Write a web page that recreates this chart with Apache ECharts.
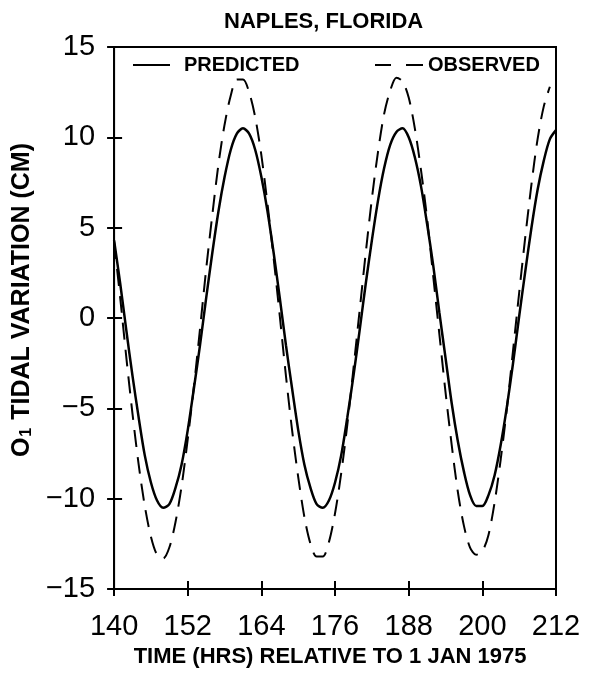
<!DOCTYPE html>
<html>
<head>
<meta charset="utf-8">
<script src="https://cdn.jsdelivr.net/npm/echarts@6/dist/echarts.min.js"></script>
<style>html,body{margin:0;padding:0;background:#fff}#c{width:597px;height:673px}</style>
</head>
<body>
<div id="c"></div>
<script>
// Time (hrs relative to 1 Jan 1975), one reading per hour
const predictedHours = [140,141,142,143,144,145,146,147,148,149,150,151,152,153,154,155,156,157,158,159,160,161,162,163,164,165,166,167,168,169,170,171,172,173,174,175,176,177,178,179,180,181,182,183,184,185,186,187,188,189,190,191,192,193,194,195,196,197,198,199,200,201,202,203,204,205,206,207,208,209,210,211,212];
const predictedValues = [4.3,1.9,-0.7,-3.2,-5.5,-7.6,-9.1,-10.1,-10.5,-10.3,-9.4,-8.1,-6.2,-3.9,-1.5,1.1,3.6,5.9,7.8,9.3,10.2,10.5,10.2,9.3,7.8,5.9,3.6,1.1,-1.5,-3.9,-6.2,-8.1,-9.4,-10.3,-10.5,-10.1,-9.1,-7.6,-5.5,-3.2,-0.7,1.9,4.3,6.5,8.3,9.6,10.3,10.5,10.0,8.9,7.3,5.2,2.9,0.3,-2.2,-4.7,-6.8,-8.5,-9.8,-10.4,-10.4,-9.8,-8.7,-7.0,-4.9,-2.5,0.1,2.6,5.0,7.1,8.7,9.9,10.4];
const observedHours = [140,141,142,143,144,145,146,147,148,149,150,151,152,153,154,155,156,157,158,159,160,161,162,163,164,165,166,167,168,169,170,171,172,173,174,175,176,177,178,179,180,181,182,183,184,185,186,187,188,189,190,191,192,193,194,195,196,197,198,199,200,201,202,203,204,205,206,207,208,209,210,211];
const observedValues = [4.2,1.1,-2.2,-5.3,-8.1,-10.4,-12.1,-13.1,-13.3,-12.7,-11.3,-9.3,-6.7,-3.8,-0.6,2.7,5.7,8.5,10.7,12.3,13.2,13.2,12.5,11.1,9.0,6.3,3.3,0.1,-3.2,-6.2,-8.8,-11.0,-12.5,-13.2,-13.2,-12.4,-10.8,-8.6,-5.9,-2.8,0.4,3.6,6.6,9.2,11.3,12.6,13.3,13.1,12.2,10.5,8.2,5.5,2.3,-0.9,-4.1,-7.0,-9.6,-11.5,-12.7,-13.1,-12.9,-12.0,-10.2,-7.8,-5.0,-1.8,1.4,4.5,7.4,9.9,11.7,12.8];
const xTicks = [140,152,164,176,188,200,212];
const yTicks = [-15,-10,-5,0,5,10,15];

const FONT = "'Liberation Sans', Arial, sans-serif";
const pair = (xs, ys) => xs.map((x, i) => [x, ys[i]]);

const chart = echarts.init(document.getElementById('c'), null, {renderer: 'canvas'});
const baseX = {
  type: 'value', min: xTicks[0], max: xTicks[xTicks.length - 1], interval: 12,
  position: 'bottom', splitLine: {show: false}
};
const baseY = {
  type: 'value', min: yTicks[0], max: yTicks[yTicks.length - 1], interval: 5,
  position: 'left', splitLine: {show: false}
};
chart.setOption({
  backgroundColor: '#fff',
  animation: false,
  title: {
    text: 'NAPLES, FLORIDA', left: 224, top: 11, padding: 0,
    textStyle: {fontFamily: FONT, fontSize: 22, fontWeight: 'bold', color: '#000'}
  },
  legend: [
    {data: [{name: 'PREDICTED', icon: 'path://M0,0H37V2H0Z'}], left: 133, top: 55, padding: 0,
     itemWidth: 37, itemHeight: 2.5,
     itemStyle: {color: '#000'},
     textStyle: {fontFamily: FONT, fontSize: 20, fontWeight: 'bold', color: '#000', padding: [0, 0, 0, 9]}},
    {data: [{name: 'OBSERVED', icon: 'path://M0,0H16V2H0Z M31,0H48V2H31Z'}], left: 375, top: 55, padding: 0,
     itemWidth: 48, itemHeight: 2.5,
     itemStyle: {color: '#000'},
     textStyle: {fontFamily: FONT, fontSize: 20, fontWeight: 'bold', color: '#000'}}
  ],
  grid: {left: 111, right: 41, top: 47, bottom: 82, show: true, borderColor: '#000', borderWidth: 2, backgroundColor: 'transparent'},
  xAxis: [
    Object.assign({}, baseX, {
      name: 'TIME (HRS) RELATIVE TO 1 JAN 1975', nameLocation: 'middle', nameGap: 56,
      nameTextStyle: {fontFamily: FONT, fontSize: 22, fontWeight: 'bold', color: '#000', padding: [0, 10, 0, 0]},
      axisLine: {show: true, onZero: false, lineStyle: {color: '#000', width: 2}},
      axisTick: {show: true, inside: true, length: 8, lineStyle: {color: '#000', width: 2}},
      axisLabel: {fontFamily: FONT, fontSize: 29, color: '#000', margin: 23}
    }),
    Object.assign({}, baseX, {
      axisLine: {show: false, onZero: false},
      axisTick: {show: true, inside: false, length: 7, lineStyle: {color: '#000', width: 2}},
      axisLabel: {show: false}
    })
  ],
  yAxis: [
    Object.assign({}, baseY, {
      name: '{a|O}{sub|1}{a| TIDAL VARIATION (CM)}', nameLocation: 'middle', nameRotate: 90, nameGap: 70,
      nameTextStyle: {
        fontFamily: FONT, fontSize: 25, fontWeight: 'bold', color: '#000', padding: [0, 0, 0, 36],
        rich: {
          a: {fontFamily: FONT, fontSize: 25, fontWeight: 'bold', color: '#000', lineHeight: 25, verticalAlign: 'top'},
          sub: {fontFamily: FONT, fontSize: 16, fontWeight: 'bold', color: '#000', lineHeight: 16, verticalAlign: 'bottom', padding: [11, 1, 0, 1]}
        }
      },
      axisLine: {show: true, onZero: false, lineStyle: {color: '#000', width: 2}},
      axisTick: {show: true, inside: true, length: 8, lineStyle: {color: '#000', width: 2}},
      axisLabel: {fontFamily: FONT, fontSize: 29, color: '#000', margin: 19,
                  formatter: v => (v < 0 ? '\u2212' + Math.abs(v) : String(v))}
    }),
    Object.assign({}, baseY, {
      axisLine: {show: false, onZero: false},
      axisTick: {show: true, inside: false, length: 7, lineStyle: {color: '#000', width: 2}},
      axisLabel: {show: false}
    })
  ],
  series: [
    {name: 'PREDICTED', type: 'line', data: pair(predictedHours, predictedValues), smooth: 0.3,
     symbol: 'none', color: '#000', lineStyle: {color: '#000', width: 2.5, type: 'solid'}},
    {name: 'OBSERVED', type: 'line', data: pair(observedHours, observedValues), smooth: 0.3,
     symbol: 'none', color: '#000', lineStyle: {color: '#000', width: 2, type: [17, 10]}}
  ]
});
</script>
</body>
</html>
